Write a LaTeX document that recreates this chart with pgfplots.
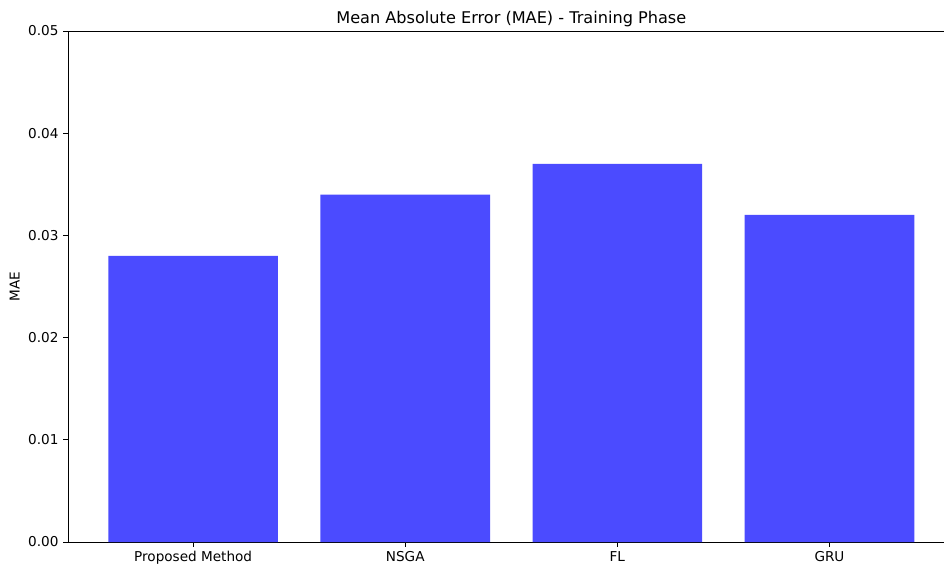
\documentclass[border=0pt]{standalone}
\usepackage{fontspec}
\setmainfont{DejaVu Sans}
\usepackage{pgfplots}
\pgfplotsset{compat=1.18}
\definecolor{barblue}{RGB}{75,75,255}
\begin{document}
\begin{tikzpicture}
\useasboundingbox (-51pt,-20.25pt) rectangle (657.75pt,406.5pt);
\begin{axis}[
  scale only axis,
  width=657pt, height=383.25pt,
  xmin=-0.59, xmax=3.54,
  ymin=0, ymax=0.05,
  axis x line*=bottom, axis y line*=left,
  axis line style={-, line width=0.6pt},
  xtick={0,1,2,3},
  xticklabels={Proposed Method,NSGA,FL,GRU},
  ytick={0,0.01,0.02,0.03,0.04,0.05},
  scaled y ticks=false,
  tick align=outside,
  major tick length=3.6pt,
  tick style={line width=0.6pt, black},
  /pgf/number format/assume math mode=true,
  yticklabel style={/pgf/number format/fixed, /pgf/number format/fixed zerofill, /pgf/number format/precision=2},
  ticklabel style={font=\fontsize{10.2}{12}\selectfont},
  clip=false,
]
\addplot[ybar, bar width=0.8, fill=barblue, draw=none] coordinates {
  (0,0.028) (1,0.034) (2,0.037) (3,0.032)
};
\draw[line width=0.6pt] (rel axis cs:0,1) -- (rel axis cs:1,1);
\node[anchor=base, font=\fontsize{12.1}{15}\selectfont] at ([yshift=6pt]axis cs:1.5,0.05) {Mean Absolute Error (MAE) - Training Phase};
\node[rotate=90, font=\fontsize{10.2}{12}\selectfont] at ([xshift=-40pt]rel axis cs:0,0.5) {MAE};
\end{axis}
\end{tikzpicture}
\end{document}
